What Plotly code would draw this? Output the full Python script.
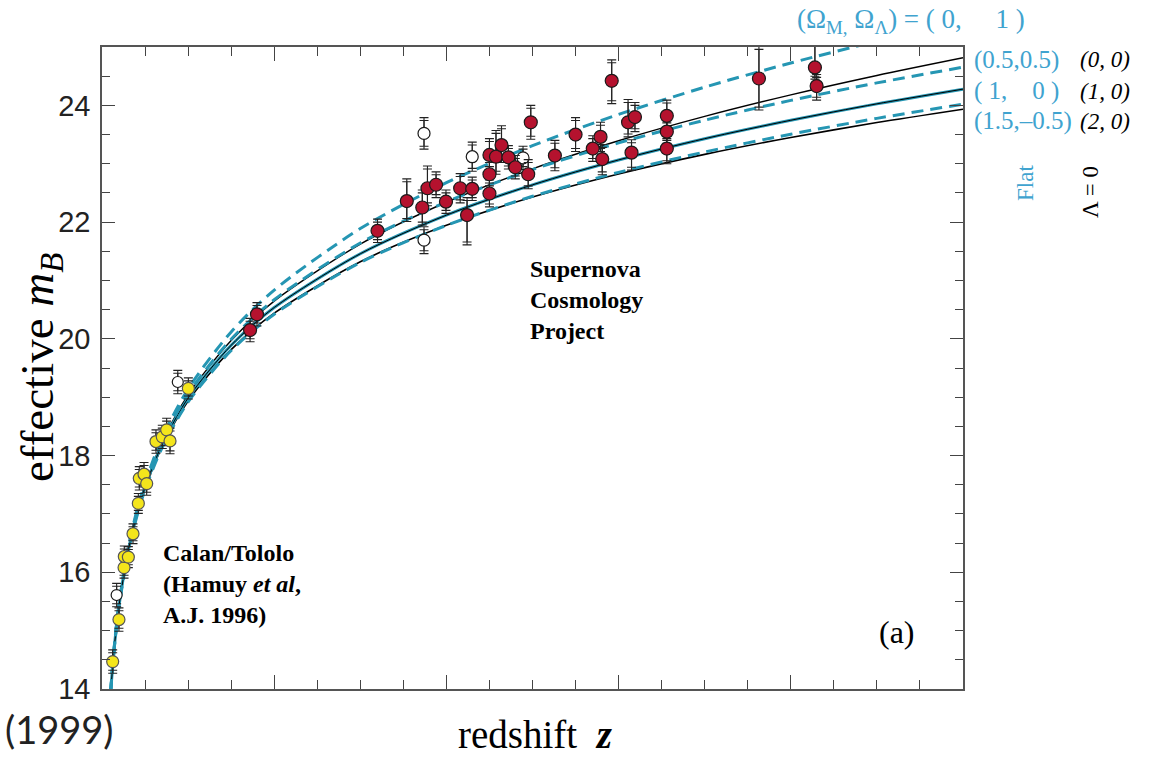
import plotly.graph_objects as go

# ---------------- model curves ----------------
Z_MODEL = [0.01, 0.015, 0.02, 0.03, 0.04, 0.05, 0.07, 0.1, 0.15, 0.2,
           0.3, 0.4, 0.5, 0.6, 0.7, 0.8, 0.9, 1.0]
M_FLAT_0_1 = [13.956, 14.847, 15.482, 16.384, 17.029, 17.535, 18.306, 19.141, 20.118, 20.835,
              21.889, 22.675, 23.309, 23.845, 24.312, 24.726, 25.099, 25.439]
M_FLAT_05_05 = [13.948, 14.835, 15.466, 16.360, 16.998, 17.496, 18.252, 19.059, 19.994, 20.670,
                21.642, 22.346, 22.900, 23.357, 23.746, 24.085, 24.385, 24.654]
M_FLAT_1_0 = [13.939, 14.823, 15.450, 16.336, 16.966, 17.455, 18.195, 18.985, 19.889, 20.536,
              21.457, 22.119, 22.638, 23.065, 23.429, 23.745, 24.026, 24.278]
M_FLAT_15_m05 = [13.931, 14.811, 15.434, 16.312, 16.933, 17.415, 18.140, 18.918, 19.799, 20.422,
                 21.309, 21.944, 22.442, 22.852, 23.201, 23.506, 23.777, 24.020]
M_OPEN_0_0 = [13.945, 14.831, 15.461, 16.352, 16.987, 17.483, 18.234, 19.040, 19.971, 20.646,
              21.623, 22.340, 22.913, 23.394, 23.811, 24.180, 24.512, 24.815]
M_CLOSED_2_0 = [13.934, 14.815, 15.439, 16.320, 16.944, 17.429, 18.159, 18.934, 19.814, 20.439,
                21.320, 21.944, 22.429, 22.825, 23.160, 23.449, 23.705, 23.934]

# ---------------- Calan/Tololo supernovae ----------------
CT_Z = [0.0124, 0.0197, 0.0256, 0.0259, 0.0306, 0.036, 0.0422, 0.0433, 0.0488, 0.0519,
        0.0627, 0.070, 0.0751, 0.079, 0.1003]
CT_M = [14.47, 15.19, 16.08, 16.27, 16.26, 16.66, 17.18, 17.61, 17.68, 17.52,
        18.24, 18.32, 18.44, 18.25, 19.15]
CT_ERR = [0.2, 0.2, 0.18, 0.18, 0.18, 0.17, 0.17, 0.2, 0.2, 0.2,
          0.2, 0.2, 0.2, 0.22, 0.18]
CT_EXCL_Z = [0.0170, 0.088]
CT_EXCL_M = [15.61, 19.26]
CT_EXCL_ERR = [0.2, 0.2]

# ---------------- Supernova Cosmology Project ----------------
SCP_Z = [0.172, 0.180, 0.320, 0.354, 0.372, 0.378, 0.388, 0.3995, 0.416, 0.430,
         0.424, 0.450, 0.450, 0.450, 0.4576, 0.464, 0.472, 0.480, 0.495, 0.498,
         0.526, 0.550, 0.570, 0.579, 0.581, 0.592, 0.611, 0.619, 0.615, 0.656,
         0.656, 0.656, 0.763, 0.828, 0.830]
SCP_M = [20.15, 20.42, 21.85, 22.36, 22.25, 22.58, 22.64, 22.35, 22.58, 22.57,
         22.12, 23.15, 22.82, 22.49, 23.12, 23.32, 23.11, 22.94, 22.82, 23.71,
         23.14, 23.50, 23.26, 23.46, 23.08, 24.42, 23.71, 23.80, 23.19, 23.82,
         23.55, 23.26, 24.46, 24.65, 24.33]
SCP_ERR_UP = [0.2, 0.2, 0.2, 0.38, 0.3, 0.38, 0.22, 0.2, 0.25, 0.2,
              0.3, 0.28, 0.25, 0.23, 0.45, 0.33, 0.2, 0.2, 0.25, 0.29,
              0.26, 0.29, 0.22, 0.25, 0.25, 0.36, 0.39, 0.25, 0.22, 0.27,
              0.2, 0.22, 0.55, 0.54, 0.2]
SCP_ERR_DN = [0.2, 0.2, 0.2, 0.35, 0.3, 0.3, 0.22, 0.2, 0.25, 0.2,
              0.51, 0.25, 0.25, 0.23, 0.3, 0.3, 0.2, 0.2, 0.25, 0.29,
              0.26, 0.29, 0.22, 0.25, 0.27, 0.39, 0.25, 0.25, 0.3, 0.25,
              0.2, 0.26, 0.54, 0.2, 0.24]
SCP_EXCL_Z = [0.374, 0.374, 0.430, 0.489]
SCP_EXCL_M = [23.52, 21.69, 23.12, 23.10]
SCP_EXCL_ERR = [0.27, 0.23, 0.25, 0.2]

# ---------------- styling ----------------
W, H = 1154, 757
PL, PR, PT, PB = 102, 963, 47, 689
CYAN_LINE = "#2596b3"
CYAN_TEXT = "#40a3cf"
RED = "#b5122e"
YELLOW = "#f4e51c"
SERIF = "Liberation Serif"
SANS = "Liberation Sans"


def px(xp):
    return (xp - PL) / (PR - PL)


def py(yp):
    return (PB - yp) / (PB - PT)


fig = go.Figure()

dash = "12px,7px"
curves = [
    (M_CLOSED_2_0, "black", 1.6, "solid"),
    (M_OPEN_0_0, "black", 1.4, "solid"),
    (M_FLAT_1_0, CYAN_LINE, 3.0, "solid"),
    (M_FLAT_1_0, "black", 1.0, "solid"),
    (M_FLAT_15_m05, CYAN_LINE, 3.0, dash),
    (M_FLAT_05_05, CYAN_LINE, 3.0, dash),
    (M_FLAT_0_1, CYAN_LINE, 3.0, dash),
]
for ys, col, w, d in curves:
    fig.add_trace(go.Scatter(x=Z_MODEL, y=ys, mode="lines",
                             line=dict(color=col, width=w, dash=d, shape="spline", smoothing=0.8),
                             hoverinfo="skip"))


def add_points(zs, ms, up, dn, fill, line_col="#1a1a1a", size=12):
    # error bars with double caps
    fig.add_trace(go.Scatter(x=zs, y=ms, mode="markers",
                             marker=dict(size=1, color="rgba(0,0,0,0)"),
                             error_y=dict(type="data", symmetric=False, array=up, arrayminus=dn,
                                          color="#222", thickness=1.1, width=4.5)))
    fig.add_trace(go.Scatter(x=zs, y=ms, mode="markers",
                             marker=dict(size=1, color="rgba(0,0,0,0)"),
                             error_y=dict(type="data", symmetric=False,
                                          array=[max(u - 0.05, 0.0) for u in up],
                                          arrayminus=[max(v - 0.05, 0.0) for v in dn],
                                          color="#222", thickness=1.1, width=4.5)))
    fig.add_trace(go.Scatter(x=zs, y=ms, mode="markers",
                             marker=dict(size=size, color=fill, line=dict(color=line_col, width=1.2))))


add_points(CT_EXCL_Z, CT_EXCL_M, CT_EXCL_ERR, CT_EXCL_ERR, "white", size=11)
add_points(CT_Z, CT_M, CT_ERR, CT_ERR, YELLOW, line_col="#555", size=12)
add_points(SCP_EXCL_Z, SCP_EXCL_M, SCP_EXCL_ERR, SCP_EXCL_ERR, "white", size=12)
add_points(SCP_Z, SCP_M, SCP_ERR_UP, SCP_ERR_DN, RED, size=13)

fig.update_layout(
    width=W, height=H,
    margin=dict(l=PL, r=W - PR, t=PT, b=H - PB, autoexpand=False),
    plot_bgcolor="white", paper_bgcolor="white",
    showlegend=False,
    xaxis=dict(range=[0, 1.0], showline=True, linecolor="#555", linewidth=1.5, mirror="allticks",
               ticks="inside", ticklen=14, tickwidth=1.2, tickcolor="#444", tick0=0, dtick=0.2,
               showticklabels=False, showgrid=False, zeroline=False,
               minor=dict(ticks="inside", ticklen=9, tickwidth=1.2, tickcolor="#444",
                          tick0=0, dtick=0.05, showgrid=False)),
    yaxis=dict(range=[14, 25], showline=True, linecolor="#555", linewidth=1.5, mirror="allticks",
               ticks="inside", ticklen=13, tickwidth=1.2, tickcolor="#444", tick0=14, dtick=2,
               tickfont=dict(family=SANS, size=29, color="#222"), ticklabelstandoff=4,
               showgrid=False, zeroline=False,
               minor=dict(ticks="inside", ticklen=8, tickwidth=1.2, tickcolor="#444",
                          tick0=14, dtick=0.5, showgrid=False)),
)


def ann(text, xp, yp, size, color="black", family=SERIF, xanchor="center", yanchor="middle",
        angle=0, align="left"):
    fig.add_annotation(text=text, x=px(xp), y=py(yp), xref="paper", yref="paper",
                       showarrow=False, xanchor=xanchor, yanchor=yanchor, textangle=angle,
                       align=align, font=dict(family=family, size=size, color=color))


nb = "\u00a0"
ann("effective <i>m</i><sub><i>B</i></sub>", 40, 368, 47, angle=-90)
ann("redshift" + nb * 2 + "<i><b>z</b></i>", 535, 734, 39)
ann("(1999)", 3, 729, 38, color="#222", family="Lato", xanchor="left")
ann("<b>Supernova<br>Cosmology<br>Project</b>", 528, 300, 24, xanchor="left")
ann("<b>Calan/Tololo<br>(Hamuy <i>et al</i>,<br>A.J. 1996)</b>", 161, 584, 24, xanchor="left")
ann("(a)", 897, 632, 32)

ann("(Ω<sub>M,</sub>" + nb + "Ω<sub>Λ</sub>)" + nb + "=" + nb + "(" + nb + "0," + nb * 5 + "1" + nb + ")",
    795, 21, 27, color=CYAN_TEXT, xanchor="left")
ann("(0.5,0.5)", 972, 60, 25, color=CYAN_TEXT, xanchor="left")
ann("(" + nb + "1," + nb * 4 + "0" + nb + ")", 972, 91, 25, color=CYAN_TEXT, xanchor="left")
ann("(1.5,\u20130.5)", 972, 121, 25, color=CYAN_TEXT, xanchor="left")
ann("<i>(0, 0)</i>", 1078, 60, 23, xanchor="left")
ann("<i>(1, 0)</i>", 1078, 91, 23, xanchor="left")
ann("<i>(2, 0)</i>", 1078, 121, 23, xanchor="left")
ann("Flat", 1025, 183, 23, color=CYAN_TEXT, angle=-90)
ann("Λ = 0", 1091, 192, 23, angle=-90)

fig.write_html("out.html", config={"displayModeBar": False},
               post_script="document.body.style.margin='0';")
